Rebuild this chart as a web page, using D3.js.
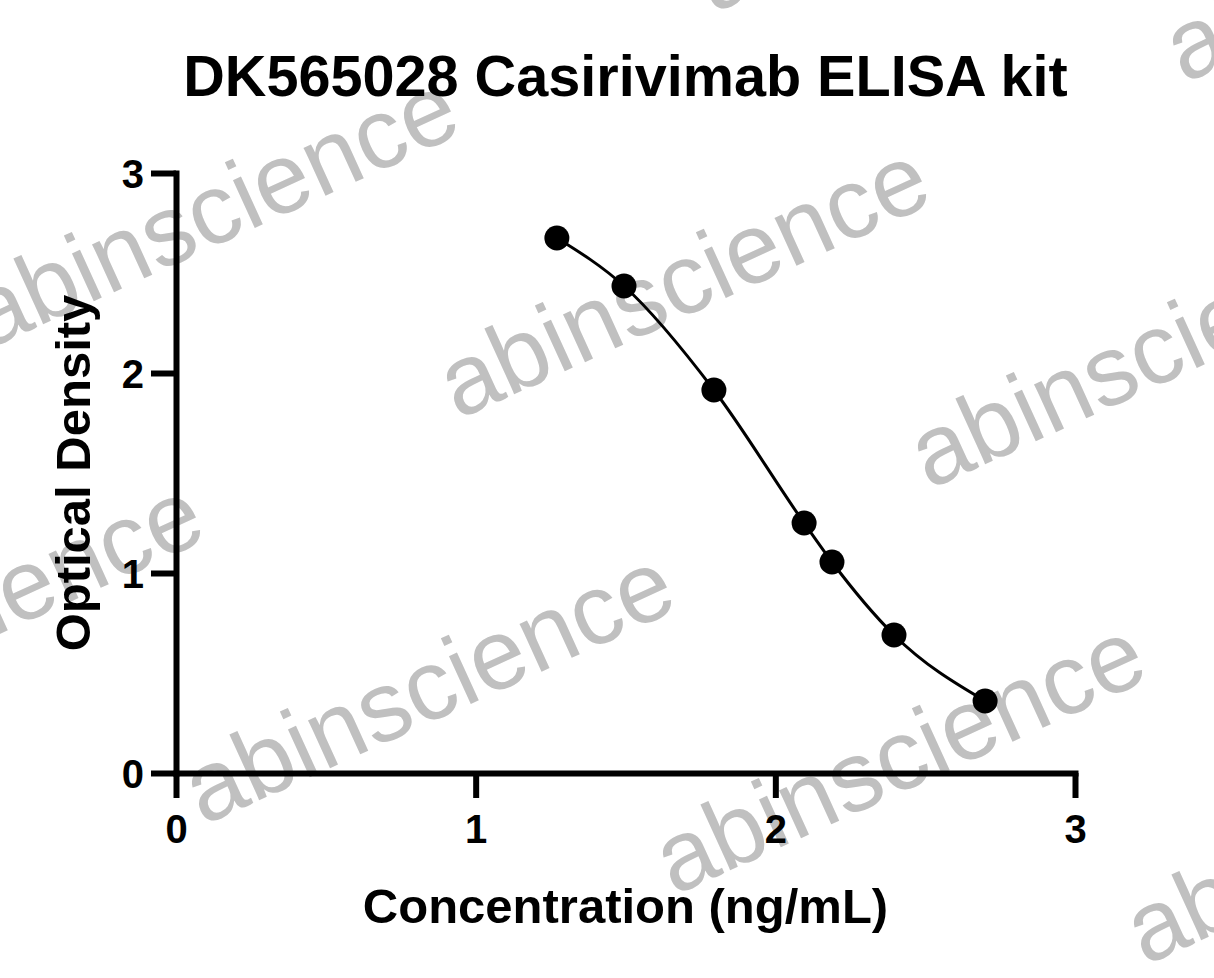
<!DOCTYPE html>
<html>
<head>
<meta charset="utf-8">
<script src="https://cdn.jsdelivr.net/npm/d3@7"></script>
<style>
  html, body { margin: 0; padding: 0; background: #fff; }
  svg { display: block; }
</style>
</head>
<body>
<div id="chart"></div>
<script>
// ---- data ----
const titleText = "DK565028 Casirivimab ELISA kit";
const xLabel = "Concentration (ng/mL)";
const yLabel = "Optical Density";
const xTicks = [0, 1, 2, 3];
const yTicks = [0, 1, 2, 3];
const xDomain = [0, 3];
const yDomain = [0, 3];
// x values (log10 concentration) and optical density of the standards
const concLog = [1.271, 1.495, 1.795, 2.096, 2.189, 2.396, 2.700];
const od      = [2.675, 2.435, 1.915, 1.250, 1.055, 0.690, 0.360];
const watermarkText = "abinscience";

// ---- layout ----
const W = 1214, H = 978;
const plot = { left: 176, right: 1075, top: 173, bottom: 773 };
const font = "'Liberation Sans', Arial, Helvetica, sans-serif";

const svg = d3.select("#chart").append("svg")
  .attr("width", W).attr("height", H)
  .attr("viewBox", `0 0 ${W} ${H}`);

svg.append("rect").attr("width", W).attr("height", H).attr("fill", "#fff");

// ---- watermark lattice (drawn beneath the chart) ----
const wm = svg.append("g").attr("class", "watermark");
const origin = [203, 826], u = [471, 70], v = [-255, 406];
for (let i = -3; i <= 3; i++) {
  for (let j = -3; j <= 3; j++) {
    const px = origin[0] + i * u[0] + j * v[0];
    const py = origin[1] + i * u[1] + j * v[1];
    if (px < -600 || px > W + 50 || py < -80 || py > H + 100) continue;
    wm.append("text")
      .attr("transform", `translate(${px},${py}) rotate(-24.5)`)
      .attr("font-family", font)
      .attr("font-size", 99.5)
      .attr("fill", "#c0c0c0")
      .text(watermarkText);
  }
}

// ---- scales ----
const x = d3.scaleLinear().domain(xDomain).range([plot.left, plot.right]);
const y = d3.scaleLinear().domain(yDomain).range([plot.bottom, plot.top]);

const axisStroke = 6;
const tickLen = 25;

// x axis
const gx = svg.append("g")
  .attr("transform", `translate(0,${plot.bottom})`)
  .call(d3.axisBottom(x).tickValues(xTicks).tickFormat(d3.format("d"))
    .tickSize(tickLen).tickSizeOuter(0).tickPadding(17));
// y axis
const gy = svg.append("g")
  .attr("transform", `translate(${plot.left},0)`)
  .call(d3.axisLeft(y).tickValues(yTicks).tickFormat(d3.format("d"))
    .tickSize(tickLen).tickSizeOuter(0).tickPadding(7));

[gx, gy].forEach(g => {
  g.select(".domain")
    .attr("stroke", "#000")
    .attr("stroke-width", axisStroke)
    .attr("stroke-linecap", "square");
  g.selectAll(".tick line")
    .attr("stroke", "#000")
    .attr("stroke-width", axisStroke);
  g.selectAll(".tick text")
    .attr("fill", "#000")
    .attr("font-family", font)
    .attr("font-weight", "bold")
    .attr("font-size", 40);
});
gy.selectAll(".tick text").attr("dy", "0.36em");
gx.selectAll(".tick text").attr("dy", "0.71em");

// ---- fitted curve through the standards ----
const pts = concLog.map((c, i) => ({ x: c, y: od[i] }));
const line = d3.line()
  .x(d => x(d.x)).y(d => y(d.y))
  .curve(d3.curveMonotoneX);
svg.append("path")
  .datum(pts)
  .attr("d", line)
  .attr("fill", "none")
  .attr("stroke", "#000")
  .attr("stroke-width", 3);

// ---- points ----
svg.append("g").selectAll("circle")
  .data(pts)
  .join("circle")
  .attr("cx", d => x(d.x))
  .attr("cy", d => y(d.y))
  .attr("r", 12.5)
  .attr("fill", "#000");

// ---- titles ----
const cx = (plot.left + plot.right) / 2;
svg.append("text")
  .attr("x", cx).attr("y", 95.5)
  .attr("text-anchor", "middle")
  .attr("font-family", font).attr("font-weight", "bold")
  .attr("font-size", 57.6)
  .attr("fill", "#000")
  .text(titleText);

svg.append("text")
  .attr("x", cx).attr("y", 923)
  .attr("text-anchor", "middle")
  .attr("font-family", font).attr("font-weight", "bold")
  .attr("font-size", 49)
  .attr("fill", "#000")
  .text(xLabel);

svg.append("text")
  .attr("transform", `translate(90,${(plot.top + plot.bottom) / 2}) rotate(-90)`)
  .attr("text-anchor", "middle")
  .attr("font-family", font).attr("font-weight", "bold")
  .attr("font-size", 49)
  .attr("fill", "#000")
  .text(yLabel);
</script>
</body>
</html>
